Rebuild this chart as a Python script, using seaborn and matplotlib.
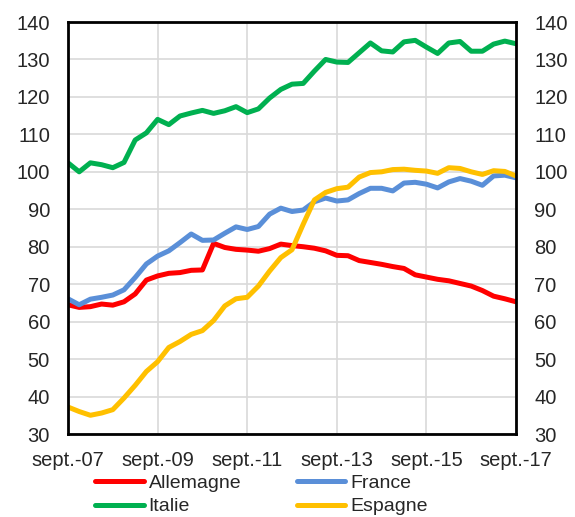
import matplotlib
matplotlib.use("Agg")
import matplotlib.pyplot as plt
import seaborn as sns
import pandas as pd
import numpy as np

tick_labels = ["sept.-07", "sept.-09", "sept.-11", "sept.-13", "sept.-15", "sept.-17"]
quarters = list(range(41))

allemagne = [64.5, 63.8, 64.0, 64.7, 64.4, 65.3, 67.4, 71.1, 72.2, 72.9,
             73.1, 73.7, 73.8, 80.9, 79.8, 79.3, 79.1, 78.8, 79.5, 80.7,
             80.3, 80.0, 79.6, 78.9, 77.7, 77.6, 76.3, 75.8, 75.3, 74.7,
             74.2, 72.5, 71.9, 71.3, 70.9, 70.2, 69.5, 68.3, 66.8, 66.1, 65.3]
france = [66.1, 64.5, 66.0, 66.5, 67.1, 68.5, 71.8, 75.4, 77.5, 78.9,
          81.1, 83.4, 81.7, 81.8, 83.6, 85.3, 84.6, 85.4, 88.7, 90.3,
          89.4, 89.8, 92.0, 93.0, 92.2, 92.5, 94.2, 95.6, 95.6, 94.9,
          97.0, 97.2, 96.7, 95.7, 97.3, 98.2, 97.5, 96.4, 98.9, 99.1, 98.4]
italie = [102.4, 100.0, 102.4, 101.9, 101.1, 102.5, 108.5, 110.4, 114.0, 112.6,
          114.9, 115.7, 116.4, 115.6, 116.3, 117.4, 115.8, 116.8, 119.7, 122.0,
          123.4, 123.6, 126.9, 130.0, 129.3, 129.2, 131.8, 134.4, 132.3, 132.0,
          134.7, 135.1, 133.3, 131.6, 134.4, 134.8, 132.2, 132.2, 134.1, 134.9, 134.2]
espagne = [37.2, 36.0, 35.0, 35.6, 36.5, 39.6, 43.0, 46.7, 49.3, 53.1,
           54.7, 56.6, 57.6, 60.3, 64.2, 66.1, 66.5, 69.5, 73.5, 77.1,
           79.2, 86.0, 92.5, 94.5, 95.5, 95.9, 98.6, 99.8, 100.0, 100.6,
           100.7, 100.4, 100.2, 99.6, 101.1, 100.9, 100.0, 99.3, 100.3, 100.1, 98.9]

series = {"Allemagne": allemagne, "France": france, "Italie": italie, "Espagne": espagne}
colors = {"Allemagne": "#FF0000", "France": "#5A8FD8", "Italie": "#00B050", "Espagne": "#FFC000"}

df = pd.concat([pd.DataFrame({"q": quarters, "val": v, "pays": k}) for k, v in series.items()])

sns.set_style("white")
plt.rcParams["font.family"] = ["Liberation Sans", "DejaVu Sans"]
FS = 14.5

fig = plt.figure(figsize=(5.75, 5.17), dpi=100)
ax = fig.add_axes([68/575, 1-434/517, (516-68)/575, (434-22)/517])

sns.lineplot(data=df, x="q", y="val", hue="pays", palette=colors, linewidth=3.6,
             ax=ax, legend=False, sort=False)

ax.set_xlim(0, 40)
ax.set_ylim(30, 140)
ax.set_xticks(range(0, 41, 8))
ax.set_xticklabels(tick_labels)
ax.set_yticks(range(30, 141, 10))
ax.tick_params(axis="y", length=0, labelsize=FS, pad=13)
ax.tick_params(axis="x", length=0, labelsize=FS, pad=12)
ax.set_xlabel("")
ax.set_ylabel("")
ax.grid(True, color="#d9d9d9", linewidth=1.2)
ax.set_axisbelow(True)
for s in ax.spines.values():
    s.set_color("black")
    s.set_linewidth(2)

ax2 = ax.twinx()
ax2.set_ylim(30, 140)
ax2.set_yticks(range(30, 141, 10))
ax2.tick_params(axis="y", length=0, labelsize=FS, pad=13)
for s in ax2.spines.values():
    s.set_visible(False)

order = ["Allemagne", "Italie", "France", "Espagne"]
handles = [plt.Line2D([], [], color=colors[k], linewidth=3.6, solid_capstyle="round") for k in order]
fig.legend(handles, order, loc="upper left", bbox_to_anchor=(95/575, 1-474/517),
           ncol=2, frameon=False, fontsize=14, handlelength=2.5, handletextpad=0.25,
           columnspacing=2.85, labelspacing=0.32, borderpad=0, borderaxespad=0)

fig.savefig("out.png", dpi=100)
